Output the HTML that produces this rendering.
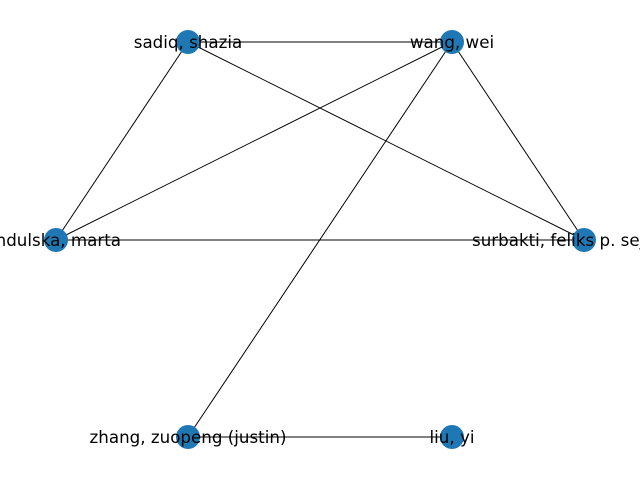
<!DOCTYPE html>
<html><head><meta charset="utf-8"><style>html,body{margin:0;padding:0;background:#fff;overflow:hidden}svg{display:block}</style></head>
<body>
<svg width="640" height="480" viewBox="0 0 640 480" xmlns="http://www.w3.org/2000/svg">
<g stroke="#000" stroke-width="1">
<line x1="188" y1="42" x2="452" y2="42"/>
<line x1="188" y1="42" x2="56" y2="240"/>
<line x1="188" y1="42" x2="584" y2="240"/>
<line x1="452" y1="42" x2="56" y2="240"/>
<line x1="452" y1="42" x2="584" y2="240"/>
<line x1="452" y1="42" x2="188" y2="437"/>
<line x1="56" y1="240" x2="584" y2="240"/>
<line x1="188" y1="437" x2="452" y2="437"/>
</g>
<g fill="#1f77b4">
<circle cx="188" cy="42" r="12"/>
<circle cx="452" cy="42" r="12"/>
<circle cx="56" cy="240" r="12"/>
<circle cx="584" cy="240" r="12"/>
<circle cx="188" cy="437" r="12"/>
<circle cx="452" cy="437" r="12"/>
</g>
<g font-family="DejaVu Sans, Liberation Sans, sans-serif" font-size="16.7" fill="#000" text-anchor="middle" dominant-baseline="central">
<text x="188" y="42">sadiq, shazia</text>
<text x="452" y="42">wang, wei</text>
<text x="56" y="240">indulska, marta</text>
<text x="472" y="240" text-anchor="start">surbakti, feliks p. sejati</text>
<text x="188" y="437">zhang, zuopeng (justin)</text>
<text x="452" y="437">liu, yi</text>
</g>
</svg>
</body></html>
